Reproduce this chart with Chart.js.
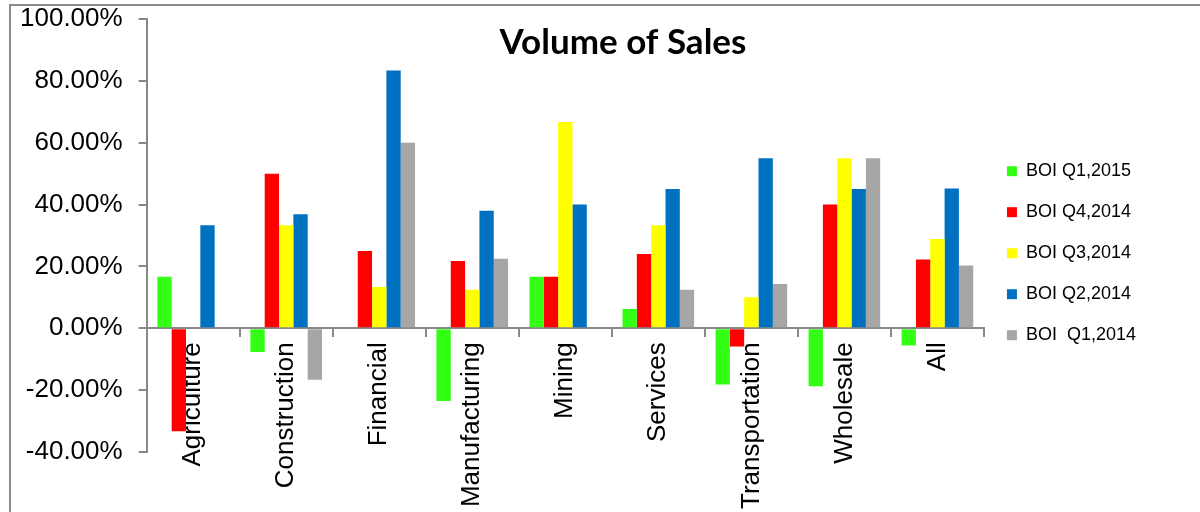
<!DOCTYPE html>
<html>
<head>
<meta charset="utf-8">
<title>Volume of Sales</title>
<script src="https://cdn.jsdelivr.net/npm/chart.js@4/dist/chart.umd.min.js"></script>
<style>
  html, body { margin: 0; padding: 0; background: #fff; }
  #wrap { position: relative; width: 1200px; height: 512px; overflow: hidden; }
  #frame { position: absolute; left: 9px; top: 4px; right: -4px; bottom: -4px;
           border-top: 2px solid #8a8a8a; border-left: 2px solid #8a8a8a; pointer-events: none; }
</style>
</head>
<body>
<div id="wrap">
  <canvas id="sales" width="1200" height="512"></canvas>
  <div id="frame"></div>
</div>
<script>
// Volume of sales by sector, BOI survey rounds (percent balance)
const sectors = ['Agriculture', 'Construction', 'Financial', 'Manufacturing', 'Mining',
  'Services', 'Transportation', 'Wholesale', 'All'];

const q1_2015 = [16.67, -7.69, 0, -23.53, 16.67, 6.25, -18.18, -18.75, -5.6];
const q4_2014 = [-33.33, 50.0, 25.0, 21.74, 16.67, 24.0, -5.88, 40.0, 22.2];
const q3_2014 = [0, 33.33, 13.33, 12.5, 66.67, 33.33, 10.0, 55.0, 28.9];
const q2_2014 = [33.33, 36.84, 83.33, 38.0, 40.0, 45.0, 55.0, 45.0, 45.2];
const q1_2014 = [0, -16.67, 60.0, 22.5, 0, 12.5, 14.29, 55.0, 20.3];

const seriesNames = ['BOI Q1,2015', 'BOI Q4,2014', 'BOI Q3,2014', 'BOI Q2,2014', 'BOI  Q1,2014'];
const seriesColors = ['#33FF14', '#FF0000', '#FFFF00', '#0070C0', '#A6A6A6'];
const seriesValues = [q1_2015, q4_2014, q3_2014, q2_2014, q1_2014];

const yTicks = { min: -40, max: 100, step: 20 };
const axisGrey = '#888888';

// chart title sits inside the plot, like the spreadsheet original
const titleInside = {
  id: 'titleInside',
  afterDraw(chart) {
    const ctx = chart.ctx;
    ctx.save();
    ctx.font = 'bold 35px Lato, "Open Sans", sans-serif';
    ctx.fillStyle = '#000';
    ctx.textAlign = 'center';
    ctx.textBaseline = 'middle';
    ctx.fillText('Volume of Sales', 623, 43);
    ctx.restore();
  }
};

new Chart(document.getElementById('sales'), {
  type: 'bar',
  data: {
    labels: sectors,
    datasets: seriesNames.map((name, i) => ({
      label: name,
      data: seriesValues[i],
      backgroundColor: seriesColors[i],
      borderWidth: 0,
      barPercentage: 1.0,
      categoryPercentage: 0.77,
    })),
  },
  options: {
    responsive: false,
    animation: false,
    layout: { padding: { left: 20, top: 19, right: 54, bottom: 60 } },
    plugins: {
      title: { display: false },
      tooltip: { enabled: false },
      legend: {
        position: 'right',
        title: { display: true, text: '', padding: 10.5 },
        labels: {
          boxWidth: 10, boxHeight: 10, padding: 23,
          color: '#000',
          font: { family: '"Liberation Sans", Arial, sans-serif', size: 18 },
        },
      },
    },
    scales: {
      x: {
        position: { y: 0 },
        border: { color: axisGrey, width: 2 },
        grid: { drawOnChartArea: false, tickLength: 8, color: axisGrey, lineWidth: 2, offset: true },
        ticks: {
          minRotation: 90, maxRotation: 90, padding: 6,
          color: '#000',
          font: { family: '"Liberation Sans", Arial, sans-serif', size: 26 },
        },
      },
      y: {
        min: yTicks.min, max: yTicks.max,
        border: { color: axisGrey, width: 2 },
        // long tick slot keeps the labels clear of the axis; only the inner 8px is inked
        grid: {
          drawOnChartArea: false, tickLength: 24, color: axisGrey, lineWidth: 2,
          tickBorderDash: [0, 16, 8, 100],
        },
        ticks: {
          stepSize: yTicks.step, padding: 0,
          color: '#000',
          font: { family: '"Liberation Sans", Arial, sans-serif', size: 26 },
          callback: v => v.toFixed(2) + '%',
        },
      },
    },
  },
  plugins: [titleInside],
});
</script>
</body>
</html>
